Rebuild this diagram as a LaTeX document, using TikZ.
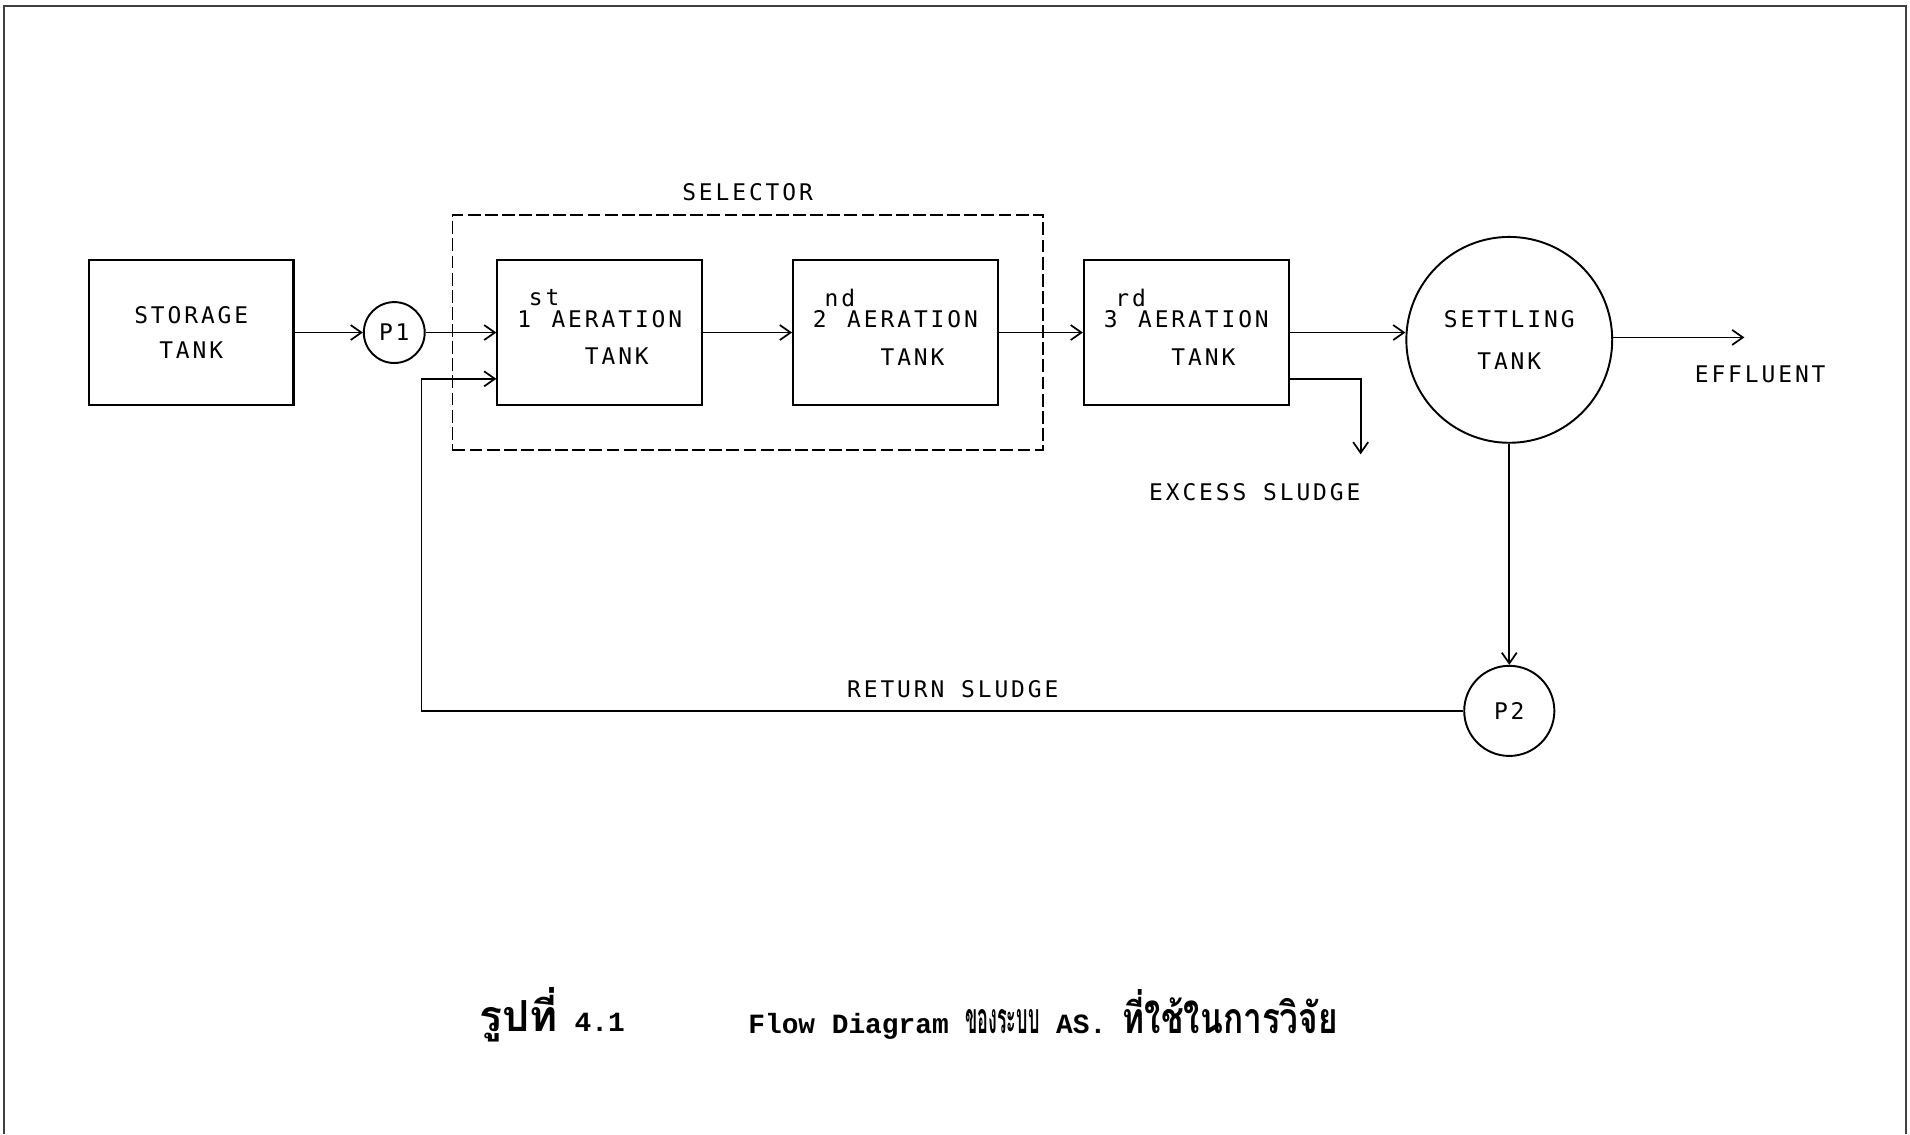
\documentclass[tikz,border=0pt]{standalone}
\usepackage{fontspec}
\usetikzlibrary{arrows.meta, positioning, fit}
\newfontfamily\plotfont{DejaVu Sans Mono}[LetterSpace=12.7]
\newfontfamily\capfont{Liberation Mono}
\newfontfamily\thaifont{Loma}[Script=Thai]
\newfontfamily\thaicond{Loma}[Script=Thai, FakeStretch=0.42]
\newfontfamily\thaisemi{Loma}[Script=Thai, FakeStretch=0.78]
\newcommand{\ordnum}[2]{\makebox[16pt][l]{#1\hspace{-1pt}\raisebox{10pt}{#2}}}

\begin{document}
\begin{tikzpicture}[
  tankbox/.style={draw, line width=1pt, minimum width=3.36cm, minimum height=2.38cm, inner sep=0pt,
                  align=center, font=\plotfont\fontsize{10.7}{16}\selectfont},
  pumpcirc/.style={draw, circle, line width=0.9pt, inner sep=0pt, align=center,
                   font=\plotfont\fontsize{10.7}{16}\selectfont},
  lbl/.style={font=\plotfont\fontsize{10.7}{16}\selectfont},
  selbox/.style={draw, dash pattern=on 6pt off 2pt, line width=0.8pt, inner sep=0.72cm},
  arr/.style={-{Straight Barb[length=5pt, width=7pt]}, line width=0.8pt},
  frame/.style={line width=1pt, black!75}
]
\useasboundingbox (0,0) rectangle (31.36,-18.62);
\draw[frame] (0.06,-18.62) |- (31.3,-0.1) -- (31.3,-18.62);

% main line
\node[tankbox] (storage) at (3.14,-5.46) {STORAGE\\TANK};
\node[pumpcirc, minimum size=1cm, right=1.12cm of storage] (p1) {P1};
\node[tankbox, right=1.16cm of p1] (tank1) {\begin{tabular}{@{}r@{}c@{}}\ordnum{1}{st}&AERATION\\[1.6pt] &TANK\end{tabular}};
\node[tankbox, right=1.46cm of tank1] (tank2) {\begin{tabular}{@{}r@{}c@{}}\ordnum{2}{nd}&AERATION\\[1.6pt] &TANK\end{tabular}};
\node[tankbox, right=1.38cm of tank2] (tank3) {\begin{tabular}{@{}r@{}c@{}}\ordnum{3}{rd}&AERATION\\[1.6pt] &TANK\end{tabular}};
\node[pumpcirc, minimum size=3.38cm, right=1.9cm of tank3, yshift=-0.12cm] (settling) {SETTLING\\[3.4pt]TANK};
\node[pumpcirc, minimum size=1.48cm, below=3.63cm of settling] (p2) {P2};

% selector
\node[selbox, fit=(tank1)(tank2)] (selector) {};
\node[lbl, above=0.1cm of selector] (sellbl) {SELECTOR};

\coordinate (retbend) at (6.92,-6.22);
\coordinate (xsend) at (22.34,-7.46);
\coordinate (effend) at (28.64,-5.54);

\draw[arr] (storage) -- (p1);
\draw[arr] (p1) -- (tank1);
\draw[arr] (tank1) -- (tank2);
\draw[arr] (tank2) -- (tank3);
\draw[arr] (tank3) -- (tank3 -| settling.west);
\draw[arr] (settling.east |- effend) -- (effend);
\draw[arr] (settling) -- (p2);
\draw[arr] ([yshift=-0.76cm]tank3.east) -| (xsend);
\draw[arr] (p2.west) -| node[lbl, above=0.08cm, pos=0.245] (retlbl) {RETURN SLUDGE} (retbend) -- (retbend -| tank1.west);

\node[lbl, anchor=north east] (excess) at ([xshift=0.12cm, yshift=-0.36cm]xsend) {EXCESS SLUDGE};
\node[lbl] (effluent) at (28.9,-6.14) {EFFLUENT};

% caption
\node[anchor=west, inner sep=0pt] (fignum) at (7.86,-16.66)
  {{\thaifont\bfseries\fontsize{20}{22}\selectfont รูปที่}\hspace{8pt}{\capfont\bfseries\fontsize{13}{16}\selectfont 4.1}};
\node[anchor=west, inner sep=0pt] (figtitle) at (12.28,-16.66)
  {{\capfont\bfseries\fontsize{13}{16}\selectfont Flow Diagram }{\thaicond\bfseries\fontsize{20}{22}\selectfont ของระบบ}{\capfont\bfseries\fontsize{13}{16}\selectfont{} AS. }{\thaisemi\bfseries\fontsize{20}{22}\selectfont ที่ใช้ในการวิจัย}};
\end{tikzpicture}
\end{document}
